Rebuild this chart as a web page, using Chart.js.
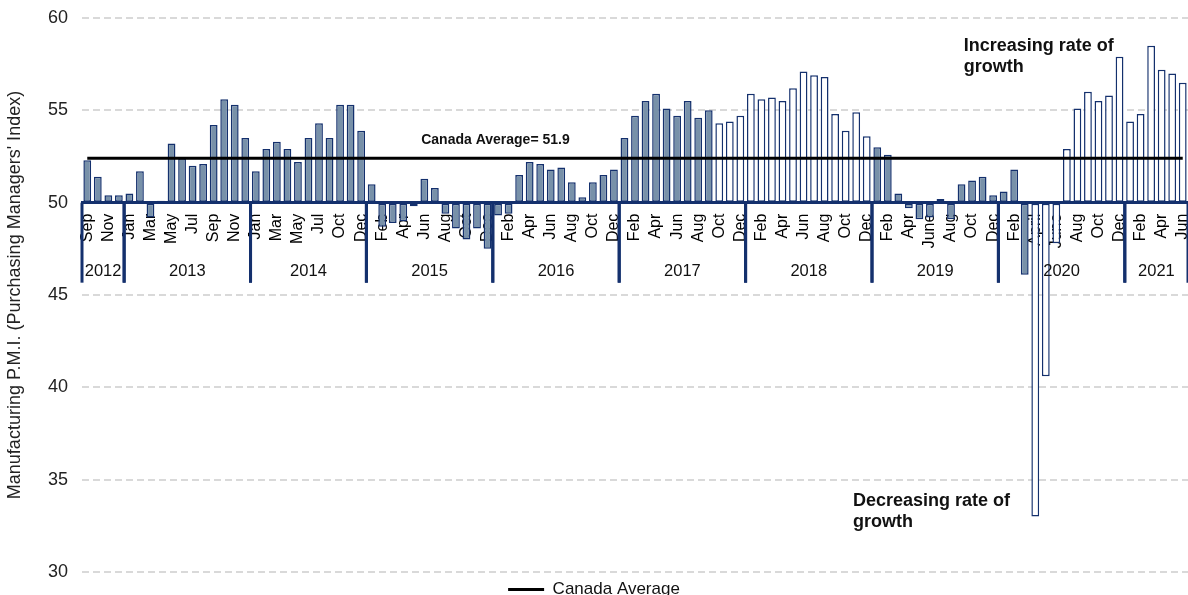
<!DOCTYPE html>
<html>
<head>
<meta charset="utf-8">
<script src="https://cdn.jsdelivr.net/npm/chart.js@4.4.0/dist/chart.umd.min.js"></script>
<style>
  html, body { margin: 0; padding: 0; background: #fff; }
  #wrap { width: 1188px; height: 595px; }
</style>
</head>
<body>
<div id="wrap"><canvas id="pmi-chart"></canvas></div>
<script>
// Canada manufacturing PMI, monthly (Aug 2014 missing in the source)
const categories = [
  'Sep 2012', 'Oct 2012', 'Nov 2012', 'Dec 2012',
  'Jan 2013', 'Feb 2013', 'Mar 2013', 'Apr 2013', 'May 2013', 'Jun 2013', 'Jul 2013', 'Aug 2013', 'Sep 2013', 'Oct 2013', 'Nov 2013', 'Dec 2013',
  'Jan 2014', 'Feb 2014', 'Mar 2014', 'Apr 2014', 'May 2014', 'Jun 2014', 'Jul 2014', 'Sep 2014', 'Oct 2014', 'Nov 2014', 'Dec 2014',
  'Jan 2015', 'Feb 2015', 'Mar 2015', 'Apr 2015', 'May 2015', 'Jun 2015', 'Jul 2015', 'Aug 2015', 'Sep 2015', 'Oct 2015', 'Nov 2015', 'Dec 2015',
  'Jan 2016', 'Feb 2016', 'Mar 2016', 'Apr 2016', 'May 2016', 'Jun 2016', 'Jul 2016', 'Aug 2016', 'Sep 2016', 'Oct 2016', 'Nov 2016', 'Dec 2016',
  'Jan 2017', 'Feb 2017', 'Mar 2017', 'Apr 2017', 'May 2017', 'Jun 2017', 'Jul 2017', 'Aug 2017', 'Sep 2017', 'Oct 2017', 'Nov 2017', 'Dec 2017',
  'Jan 2018', 'Feb 2018', 'Mar 2018', 'Apr 2018', 'May 2018', 'Jun 2018', 'Jul 2018', 'Aug 2018', 'Sep 2018', 'Oct 2018', 'Nov 2018', 'Dec 2018',
  'Jan 2019', 'Feb 2019', 'Mar 2019', 'Apr 2019', 'May 2019', 'Jun 2019', 'Jul 2019', 'Aug 2019', 'Sep 2019', 'Oct 2019', 'Nov 2019', 'Dec 2019',
  'Jan 2020', 'Feb 2020', 'Mar 2020', 'Apr 2020', 'May 2020', 'Jun 2020', 'Jul 2020', 'Aug 2020', 'Sep 2020', 'Oct 2020', 'Nov 2020', 'Dec 2020',
  'Jan 2021', 'Feb 2021', 'Mar 2021', 'Apr 2021', 'May 2021', 'Jun 2021'
];

const pmi = [
  52.3, 51.4, 50.4, 50.4,
  50.5, 51.7, 49.2, 50.1, 53.2, 52.4, 52.0, 52.1, 54.2, 55.6, 55.3, 53.5,
  51.7, 52.9, 53.3, 52.9, 52.2, 53.5, 54.3, 53.5, 55.3, 55.3, 53.9,
  51.0, 48.7, 48.9, 49.0, 49.8, 51.3, 50.8, 49.4, 48.6, 48.0, 48.6, 47.5,
  49.3, 49.4, 51.5, 52.2, 52.1, 51.8, 51.9, 51.1, 50.3, 51.1, 51.5, 51.8,
  53.5, 54.7, 55.5, 55.9, 55.1, 54.7, 55.5, 54.6, 55.0, 54.3, 54.4, 54.7,
  55.9, 55.6, 55.7, 55.5, 56.2, 57.1, 56.9, 56.8, 54.8, 53.9, 54.9, 53.6,
  53.0, 52.6, 50.5, 49.7, 49.1, 49.2, 50.2, 49.1, 51.0, 51.2, 51.4, 50.4,
  50.6, 51.8, 46.1, 33.0, 40.6, 47.8, 52.9, 55.1, 56.0, 55.5, 55.8, 57.9,
  54.4, 54.8, 58.5, 57.2, 57.0, 56.5
];

const tickLabels = [
  'Sep', '', 'Nov', '',
  'Jan', '', 'Mar', '', 'May', '', 'Jul', '', 'Sep', '', 'Nov', '',
  'Jan', '', 'Mar', '', 'May', '', 'Jul', '', 'Oct', '', 'Dec',
  '', 'Feb', '', 'Apr', '', 'Jun', '', 'Aug', '', 'Oct', '', 'Dec',
  '', 'Feb', '', 'Apr', '', 'Jun', '', 'Aug', '', 'Oct', '', 'Dec',
  '', 'Feb', '', 'Apr', '', 'Jun', '', 'Aug', '', 'Oct', '', 'Dec',
  '', 'Feb', '', 'Apr', '', 'Jun', '', 'Aug', '', 'Oct', '', 'Dec',
  '', 'Feb', '', 'Apr', '', 'June', '', 'Aug', '', 'Oct', '', 'Dec',
  '', 'Feb', '', 'April', '', 'June', '', 'Aug', '', 'Oct', '', 'Dec',
  '', 'Feb', '', 'Apr', '', 'Jun'
];

const yearLabels = ['2012', '2013', '2014', '2015', '2016', '2017', '2018', '2019', '2020', '2021'];

const canadaAverage = 52.4;
const averageLabel = 'Canada Average= 51.9';

// periods drawn as hollow bars
const hollowPeriods = [['Oct 2017', 'Dec 2018'], ['Apr 2020', 'Jun 2021']];

const NAVY = '#14306d';
const FONT = '"Liberation Sans", Arial, sans-serif';

const isHollow = i => hollowPeriods.some(([a, b]) =>
  i >= categories.indexOf(a) && i <= categories.indexOf(b));
const barFill = categories.map((c, i) => isHollow(i) ? '#ffffff' : '#7891a9');

// text notes, placed in data space (category index, PMI value)
const notes = [
  { lines: [averageLabel], at: 38.75, value: 53.15, size: 14, align: 'center' },
  { lines: ['Increasing rate of', 'growth'], at: 83.2, value: 58.2, size: 18, align: 'left' },
  { lines: ['Decreasing rate of', 'growth'], at: 72.7, value: 33.55, size: 18, align: 'left' }
];

// year separators + year names under the month labels, and the text notes
const yearAxis = {
  id: 'yearAxis',
  afterDraw(chart) {
    const { ctx, scales: { x, y } } = chart;
    const base = y.getPixelForValue(50);
    const step = x.getPixelForValue(1) - x.getPixelForValue(0);
    ctx.save();
    ctx.strokeStyle = NAVY;
    ctx.lineWidth = 3;
    ctx.fillStyle = '#111';
    ctx.font = '16.5px ' + FONT;
    ctx.textAlign = 'center';
    ctx.textBaseline = 'middle';
    yearLabels.forEach(year => {
      const idx = categories.map((c, i) => c.endsWith(year) ? i : -1).filter(i => i >= 0);
      const left = x.getPixelForValue(idx[0]) - step / 2;
      const right = x.getPixelForValue(idx[idx.length - 1]) + step / 2;
      [left, right].forEach(px => {
        ctx.beginPath();
        ctx.moveTo(px, base);
        ctx.lineTo(px, base + 80);
        ctx.stroke();
      });
      ctx.fillText(year, (left + right) / 2, base + 69);
    });

    ctx.textBaseline = 'alphabetic';
    notes.forEach(n => {
      ctx.font = 'bold ' + n.size + 'px ' + FONT;
      ctx.textAlign = n.align;
      const px = x.getPixelForValue(n.at);
      const py = y.getPixelForValue(n.value);
      n.lines.forEach((t, k) => ctx.fillText(t, px, py + k * 21));
    });
    ctx.restore();
  }
};

new Chart(document.getElementById('pmi-chart'), {
  type: 'bar',
  data: {
    labels: categories,
    datasets: [
      {
        type: 'line',
        label: 'Canada Average',
        data: categories.map(() => canadaAverage),
        borderColor: '#000',
        backgroundColor: '#000',
        borderWidth: 3,
        pointRadius: 0,
        order: 0
      },
      {
        label: 'PMI',
        data: pmi,
        base: 50,
        backgroundColor: barFill,
        borderColor: NAVY,
        borderWidth: 1.5,
        borderSkipped: false,
        barPercentage: 0.74,
        categoryPercentage: 1,
        order: 1
      }
    ]
  },
  options: {
    responsive: true,
    maintainAspectRatio: false,
    animation: false,
    devicePixelRatio: 1,
    layout: { padding: { top: 18, right: 0, left: 0, bottom: -13 } },
    plugins: {
      tooltip: { enabled: false },
      legend: {
        position: 'bottom',
        labels: {
          filter: item => item.text === 'Canada Average',
          usePointStyle: true,
          pointStyle: 'line',
          pointStyleWidth: 36,
          padding: 9,
          color: '#111',
          font: { family: FONT, size: 17 }
        }
      }
    },
    scales: {
      x: {
        position: { y: 50 },
        z: 1,
        grid: { display: true, color: 'transparent', drawTicks: false, drawOnChartArea: false },
        border: { display: true, color: NAVY, width: 3 },
        ticks: {
          autoSkip: false,
          minRotation: 90,
          maxRotation: 90,
          padding: 11,
          color: '#000',
          font: { family: FONT, size: 16 },
          callback: (value, index) => tickLabels[index]
        },
        afterFit: scale => { scale.paddingLeft = 0; scale.paddingRight = 0; }
      },
      y: {
        min: 30,
        max: 60,
        ticks: {
          stepSize: 5,
          padding: 14,
          color: '#222',
          font: { family: FONT, size: 18 }
        },
        grid: { color: '#d9d9d9', lineWidth: 2, drawTicks: false, borderDash: [7, 4] },
        border: { display: false, dash: [7, 4] },
        title: {
          display: true,
          text: "Manufacturing P.M.I. (Purchasing Managers' Index)",
          color: '#222',
          font: { family: FONT, size: 18 },
          padding: { top: 4, bottom: 0 }
        },
        afterFit: scale => {
          scale.width = 82;
          scale.paddingTop = 10;
          scale.paddingBottom = 10;
        }
      }
    }
  },
  plugins: [yearAxis]
});
</script>
</body>
</html>
